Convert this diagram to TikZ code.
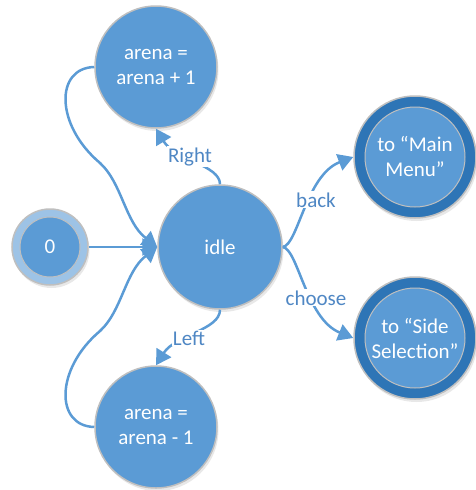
\documentclass[tikz,border=0pt]{standalone}
\usepackage{fontspec}
\setmainfont{Carlito}
\usetikzlibrary{arrows.meta,shadows}
\definecolor{nodeblue}{HTML}{5B9BD5}
\definecolor{darkblue}{HTML}{2E75B6}
\definecolor{lightblue}{HTML}{9DC3E6}
\definecolor{rimgray}{HTML}{BFBFBF}
\definecolor{labelblue}{HTML}{4F87C4}
\begin{document}
\begin{tikzpicture}[x=1pt,y=-1pt,
  shad/.style={drop shadow={opacity=0.18, shadow xshift=1.5pt, shadow yshift=-3pt}},
  state/.style={circle, fill=nodeblue, draw=rimgray, line width=1.5pt, text=white,
    font=\fontsize{21}{25}\selectfont, align=center, inner sep=0pt, shad},
  ringout/.style={circle, draw=rimgray, line width=1.5pt, inner sep=0pt, shad},
  ringin/.style={circle, fill=nodeblue, draw=rimgray, line width=1pt, text=white,
    font=\fontsize{21}{25}\selectfont, align=center, inner sep=0pt},
  edge/.style={draw=nodeblue, line width=2.5pt, -{Triangle[length=15pt,width=17pt]}},
  lab/.style={fill=white, text=labelblue, font=\fontsize{21}{25}\selectfont, inner sep=1pt, anchor=base}
]
\useasboundingbox (0,0) rectangle (475,490);

% nodes
\node[state, minimum size=122pt] (top) at (156,67) {arena =\\arena + 1};
\node[state, minimum size=124pt] (idle) at (220,247) {idle};
\node[state, minimum size=122pt] (bot) at (156,427) {arena =\\arena - 1};

\node[ringout, fill=lightblue, minimum size=76pt] (zeroo) at (50,247) {};
\node[ringin, minimum size=60pt] (zero) at (50,247) {0};

\node[ringout, fill=darkblue, minimum size=122pt] (mmo) at (415,157) {};
\node[ringin, minimum size=100pt] (mm) at (415,157) {to “Main\\Menu”};

\node[ringout, fill=darkblue, minimum size=122pt] (sso) at (415,338) {};
\node[ringin, minimum size=100pt] (ss) at (415,338) {to “Side\\Selection”};

% edges
\draw[edge] (zeroo) -- (idle);
\draw[edge] (top.west) .. controls (55,68) and (55,125) .. (100,163)
                       .. controls (122,183) and (125,222) .. (idle.west);
\draw[edge] (bot.west) .. controls (55,426) and (55,369) .. (100,331)
                       .. controls (122,311) and (125,272) .. (idle.west);
\draw[edge] (idle.north) .. controls (220,165) and (175,160) .. (top.south);
\draw[edge] (idle.south) .. controls (220,330) and (175,335) .. (bot.north);
\draw[edge] (idle.east) .. controls (298,245) and (306,175) .. (mmo.west);
\draw[edge] (idle.east) .. controls (298,249) and (306,319) .. (sso.west);

% labels
\node[lab] (lright) at (190,162) {Right};
\node[lab] (lleft) at (189,345) {Left};
\node[lab] (lback) at (316,207) {back};
\node[lab] (lchoose) at (316,305) {choose};
\end{tikzpicture}
\end{document}
